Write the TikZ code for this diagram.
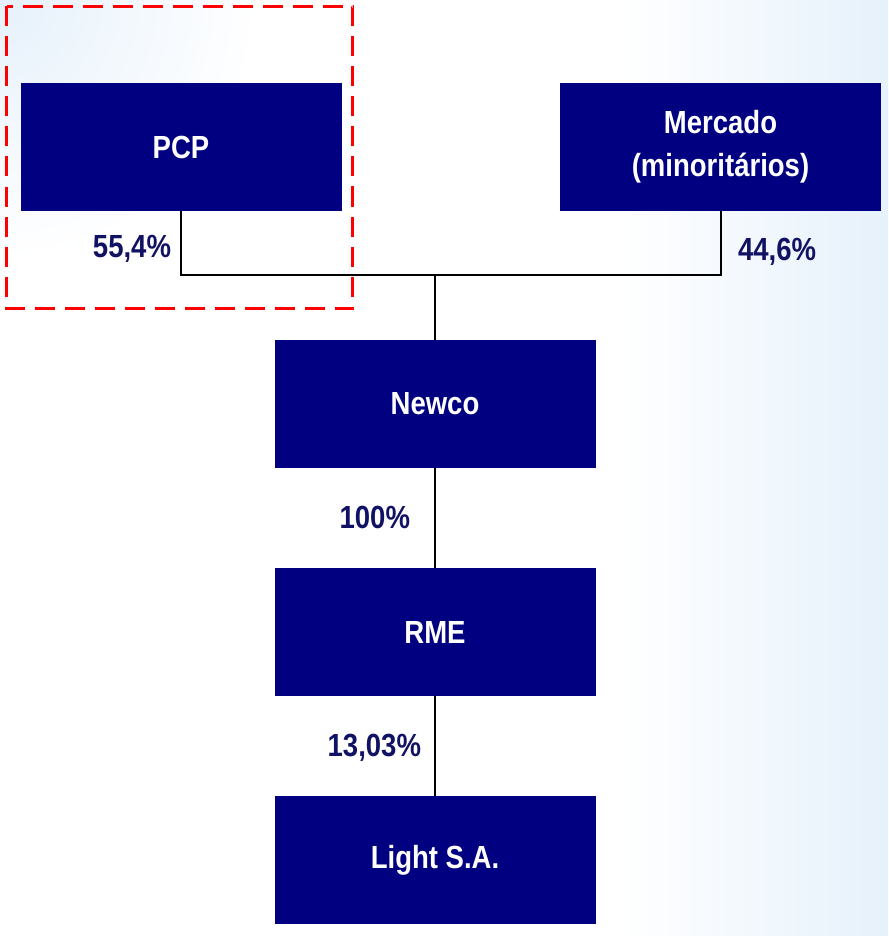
\documentclass[tikz,border=0pt]{standalone}
\usepackage{fontspec}
\setmainfont{Liberation Sans}[FakeStretch=0.86]
\usepackage{tikz}
\usetikzlibrary{positioning}

\definecolor{boxnavy}{RGB}{0,0,128}
\definecolor{pctnavy}{RGB}{18,18,100}
\definecolor{bgblue}{RGB}{230,241,251}

\begin{document}
\begin{tikzpicture}[x=1pt,y=-1pt,node distance=100pt,
                    line width=2pt]
      \tikzstyle{box}=[fill=boxnavy,text=white,minimum width=321pt,
                       minimum height=128pt,inner sep=0pt,outer sep=0pt,
                       align=center,
                       font=\fontsize{32}{43}\selectfont\bfseries]
      \tikzstyle{pct}=[text=pctnavy,inner sep=0pt,
                       font=\fontsize{32}{36}\selectfont\bfseries]

      % background
      \useasboundingbox (0,0) rectangle (888,936);
      \begin{scope}
        \clip (0,0) rectangle (888,936);
        \fill[white] (0,0) rectangle (888,936);
        \shade[left color=white,right color=bgblue] (620,0) rectangle (888,936);
        \shade[inner color=bgblue,outer color=white] (0,0) circle (260);
      \end{scope}

      \node[box] (pcp)     at (181,147)   {PCP};
      \node[box] (mercado) at (720.5,147) {Mercado\\(minoritários)};
      \node[box] (newco)   at (435,404)   {Newco};
      \node[box] (rme)     [below=of newco] {RME};
      \node[box] (light)   [below=of rme]   {Light S.A.};

      \coordinate (split) at (newco.north |- 0,275);
      \draw (pcp.south) |- (split) -| (mercado.south);
      \path (split) edge (newco.north)
            (newco) edge (rme)
            (rme)   edge (light);

      \node[pct,anchor=east] (p1) at (172,249) {55,4\%};
      \node[pct,anchor=west] (p2) at (737,252) {44,6\%};
      \node[pct,anchor=east] (p3) at (411,517) {100\%};
      \node[pct,anchor=east] (p4) at (422,748) {13,03\%};

      % highlight
      \draw[red,line width=3.5pt,dash pattern=on 20pt off 10pt]
            (6.5,6.5) rectangle (352.5,308.5);

\end{tikzpicture}
\end{document}
